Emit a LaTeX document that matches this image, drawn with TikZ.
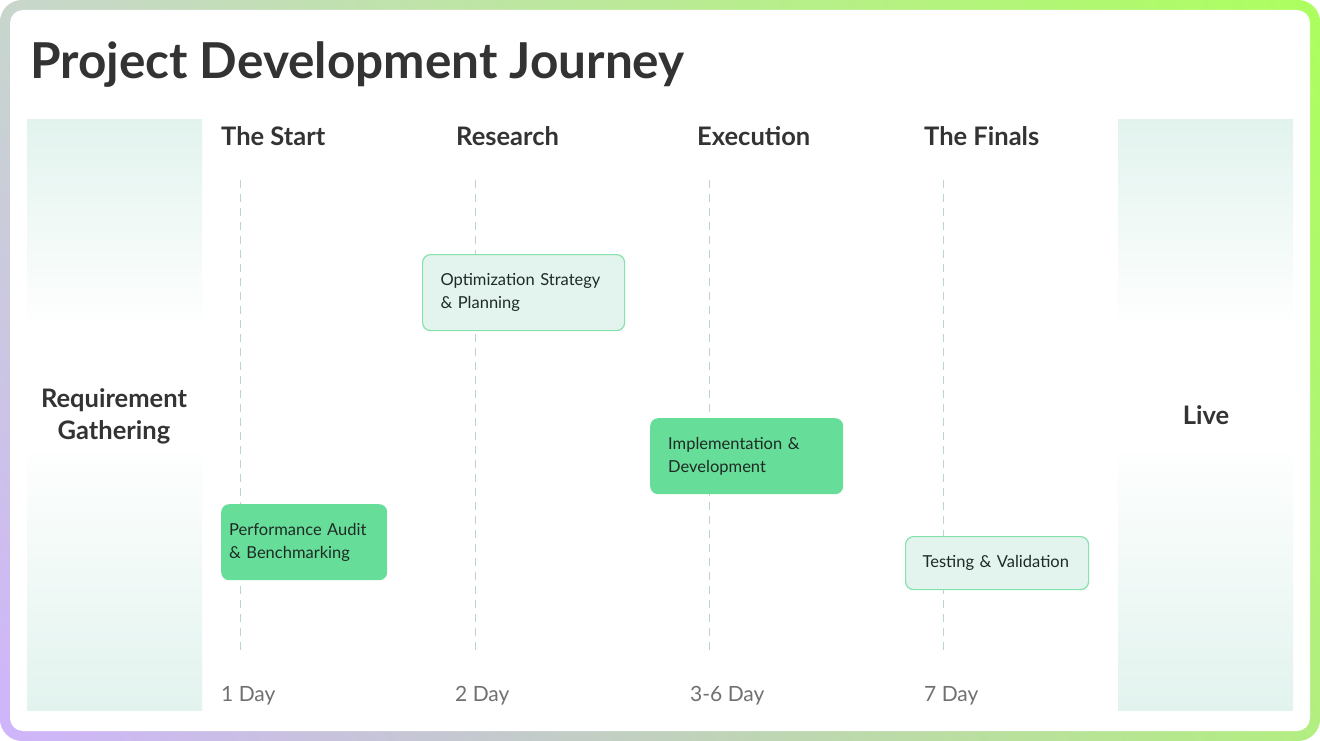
\documentclass[tikz,border=0pt]{standalone}
\usepackage{fontspec}
\setmainfont{Lato}
\usetikzlibrary{positioning,shadings}

\definecolor{inkdark}{HTML}{333333}
\definecolor{inkbox}{HTML}{1F2A24}
\definecolor{inkday}{HTML}{707070}
\definecolor{panelgreen}{HTML}{E2F3EE}
\definecolor{boxgreen}{HTML}{66DD99}
\definecolor{boxpale}{HTML}{E3F4EE}
\definecolor{boxedge}{HTML}{86E2AC}
\definecolor{guide}{HTML}{B9D5D1}
\definecolor{frameUL}{HTML}{C8D6CC}
\definecolor{frameUR}{HTML}{ACFF5E}
\definecolor{frameLL}{HTML}{CFB4FC}
\definecolor{frameLR}{HTML}{B2EE80}

\tikzset{
  heading/.style={anchor=west, font=\fontsize{25.5}{30}\selectfont\bfseries, text=inkdark, inner sep=0pt},
  daylabel/.style={anchor=west, font=\fontsize{21}{24}\selectfont, text=inkday, inner sep=0pt},
  phase/.style={anchor=north west, rounded corners=8pt, minimum height=76pt,
    align=left, font=\fontsize{16.5}{23}\selectfont, text=inkbox, inner ysep=0pt},
  phasefull/.style={phase, fill=boxgreen},
  phaselight/.style={phase, fill=boxpale, draw=boxedge, line width=1.2pt},
  sidelabel/.style={align=center, font=\fontsize{25.5}{32}\selectfont\bfseries, text=inkdark}
}

\begin{document}
\begin{tikzpicture}[x=1pt,y=-1pt]

  \useasboundingbox (0,0) rectangle (1320,741);

  % Frame
  \shade[rounded corners=22pt, upper left=frameUL, upper right=frameUR,
    lower left=frameLL, lower right=frameLR] (0,0) rectangle (1320,741);
  \fill[white, rounded corners=13pt] (10,10) rectangle (1310,731);

  % Title
  \node[anchor=base west, inner sep=0pt, text=inkdark,
    font=\fontsize{49.5}{60}\selectfont\bfseries] (title) at (30,79) {Project Development Journey};

  % Side panels
  \foreach \px in {27,1118} {
    \shade[top color=panelgreen, bottom color=white] (\px,120) rectangle ++(175,210);
    \fill[white] (\px,330) rectangle ++(175,110);
    \shade[top color=white, bottom color=panelgreen] (\px,440) rectangle ++(175,270);
  }
  \node[sidelabel] (req) at (114,416) {Requirement\\Gathering};
  \node[sidelabel] (live) at (1206,415) {Live};

  % Guide lines
  \foreach \gx [count=\i] in {240,475,709,943} {
    \coordinate (top\i) at (\gx,180);
    \coordinate (bot\i) at (\gx,652);
    \draw[guide, line width=1pt, dash pattern=on 8pt off 6pt] (top\i) -- (bot\i);
  }

  % Phase headings
  \node[heading] (start) at (221,136) {The Start};
  \node[heading] (research) at (456,136) {Research};
  \node[heading] (execution) at (697,136) {Execution};
  \node[heading] (finals) at (924,136) {The Finals};

  % Durations
  \node[daylabel] (day1) at (221,696) {1 Day};
  \node[daylabel] (day2) at (455,696) {2 Day};
  \node[daylabel] (day3) at (690,696) {3-6 Day};
  \node[daylabel] (day4) at (924,696) {7 Day};

  % Tasks
  \node[phasefull, minimum width=166pt, text width=150pt, inner xsep=8pt] (audit) at (221,504)
    {Performance Audit\\\& Benchmarking};
  \node[phaselight, minimum width=202pt, text width=166pt, inner xsep=18pt] (strategy) at (422,254)
    {Optimization Strategy\\\& Planning};
  \node[phasefull, minimum width=193pt, text width=157pt, inner xsep=18pt] (impl) at (650,418)
    {Implementation \&\\Development};
  \node[phaselight, minimum width=183pt, minimum height=53pt, text width=149pt, inner xsep=17pt] (testing) at (905,536)
    {Testing \& Validation};

\end{tikzpicture}
\end{document}
